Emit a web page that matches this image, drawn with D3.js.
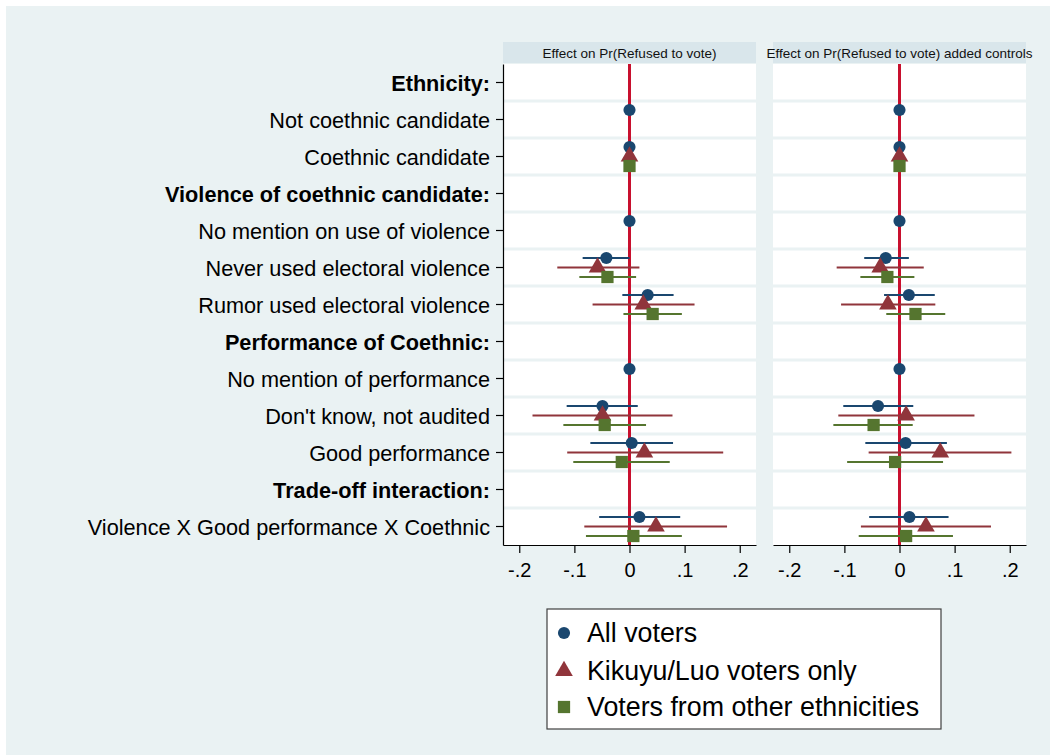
<!DOCTYPE html>
<html>
<head>
<meta charset="utf-8">
<script src="https://cdn.jsdelivr.net/npm/d3@7"></script>
<style>
  body { margin: 0; background: #fff; }
  svg { display: block; font-family: "Liberation Sans", Arial, sans-serif; }
</style>
</head>
<body>
<svg id="chart" width="1050" height="755"></svg>
<script>
// rows of the coefficient plot, top to bottom
var rows = [
    "Ethnicity:",
    "Not coethnic candidate",
    "Coethnic candidate",
    "Violence of coethnic candidate:",
    "No mention on use of violence",
    "Never used electoral violence",
    "Rumor used electoral violence",
    "Performance of Coethnic:",
    "No mention of performance",
    "Don't know, not audited",
    "Good performance",
    "Trade-off interaction:",
    "Violence X Good performance X Coethnic"
];
var headingRows = [0, 3, 7, 11];

var panelTitles = ["Effect on Pr(Refused to vote)", "Effect on Pr(Refused to vote) added controls"];
var seriesNames = ["All voters", "Kikuyu/Luo voters only", "Voters from other ethnicities"];
var seriesColors = ["#1a476f", "#90353b", "#55752f"];
var xTicks = [-0.2, -0.1, 0, 0.1, 0.2];
var xTickLabels = ["-.2", "-.1", "0", ".1", ".2"];

// [estimate, lower, upper] per row, null where no estimate (base rows have no CI)
var allVoters1 = [null, [0, null, null], [0, null, null], null, [0, null, null],
    [-0.042, -0.085, 0.000], [0.033, -0.013, 0.080], null, [0, null, null],
    [-0.049, -0.114, 0.015], [0.004, -0.071, 0.079], null, [0.018, -0.055, 0.092]];
var kikuyuLuo1 = [null, null, [0, null, null], null, null,
    [-0.058, -0.131, 0.018], [0.025, -0.067, 0.118], null, null,
    [-0.049, -0.176, 0.078], [0.027, -0.113, 0.170], null, [0.048, -0.082, 0.177]];
var otherEth1 = [null, null, [0, null, null], null, null,
    [-0.040, -0.091, 0.012], [0.042, -0.011, 0.095], null, null,
    [-0.045, -0.120, 0.030], [-0.014, -0.102, 0.073], null, [0.007, -0.079, 0.095]];

var allVoters2 = [null, [0, null, null], [0, null, null], null, [0, null, null],
    [-0.025, -0.064, 0.017], [0.017, -0.028, 0.064], null, [0, null, null],
    [-0.039, -0.102, 0.025], [0.011, -0.062, 0.086], null, [0.018, -0.055, 0.089]];
var kikuyuLuo2 = [null, null, [0, null, null], null, null,
    [-0.035, -0.114, 0.044], [-0.021, -0.106, 0.065], null, null,
    [0.012, -0.111, 0.136], [0.074, -0.056, 0.203], null, [0.048, -0.070, 0.166]];
var otherEth2 = [null, null, [0, null, null], null, null,
    [-0.022, -0.071, 0.027], [0.029, -0.024, 0.083], null, null,
    [-0.047, -0.120, 0.024], [-0.008, -0.095, 0.079], null, [0.012, -0.074, 0.097]];

var panelSeries = [
    [allVoters1, kikuyuLuo1, otherEth1],
    [allVoters2, kikuyuLuo2, otherEth2]
];

var svg = d3.select("#chart");
var bg = "#eaf2f3";

svg.append("rect").attr("x", 6).attr("y", 6).attr("width", 1044).attr("height", 749).attr("fill", bg);

var plotTop = 64, plotBottom = 545;
var panelLeft = [503, 773], panelWidth = 253;
var offsets = [-9.5, 0, 9.5];
var shapes = [d3.symbolCircle, d3.symbolTriangle, d3.symbolSquare];
var sizes = [115, 135, 150];

var y = d3.scaleBand().domain(d3.range(rows.length)).range([plotTop, plotBottom]).paddingInner(0).paddingOuter(0);

panelSeries.forEach(function (seriesList, p) {
    var x = d3.scaleLinear().domain([-0.2295, 0.2295]).range([panelLeft[p], panelLeft[p] + panelWidth]);
    var g = svg.append("g");

    // header strip
    g.append("rect")
        .attr("x", panelLeft[p]).attr("y", 42)
        .attr("width", panelWidth).attr("height", 21)
        .attr("fill", "#d9e6eb");
    g.append("text")
        .attr("x", panelLeft[p] + panelWidth / 2).attr("y", 53)
        .attr("text-anchor", "middle").attr("dominant-baseline", "central")
        .style("font-size", "13.5px").style("fill", "#111")
        .text(panelTitles[p]);

    // plot region
    g.append("rect")
        .attr("x", panelLeft[p]).attr("y", plotTop)
        .attr("width", panelWidth).attr("height", plotBottom - plotTop)
        .attr("fill", "#fff");

    // grid lines between rows
    g.append("g").selectAll("line")
        .data(d3.range(1, rows.length))
        .enter().append("line")
        .attr("x1", panelLeft[p]).attr("x2", panelLeft[p] + panelWidth)
        .attr("y1", function (d) { return y(d); })
        .attr("y2", function (d) { return y(d); })
        .style("stroke", bg).style("stroke-width", 3);

    // reference line at zero
    g.append("line")
        .attr("x1", x(0)).attr("x2", x(0))
        .attr("y1", plotTop).attr("y2", plotBottom)
        .style("stroke", "#c8102e").style("stroke-width", 3);

    seriesList.forEach(function (vals, s) {
        var pts = vals.map(function (v, i) {
            return v ? { row: i, est: v[0], lo: v[1], hi: v[2] } : null;
        }).filter(function (d) { return d; });
        var cy = function (d) { return y(d.row) + y.bandwidth() / 2 + offsets[s]; };

        g.append("g").selectAll("line")
            .data(pts.filter(function (d) { return d.lo != null; }))
            .enter().append("line")
            .attr("x1", function (d) { return x(d.lo); })
            .attr("x2", function (d) { return x(d.hi); })
            .attr("y1", cy).attr("y2", cy)
            .style("stroke", seriesColors[s]).style("stroke-width", 2);

        g.append("g").selectAll("path")
            .data(pts)
            .enter().append("path")
            .attr("d", d3.symbol().type(shapes[s]).size(sizes[s]))
            .attr("transform", function (d) {
                return "translate(" + x(d.est) + "," + cy(d) + ")";
            })
            .style("fill", seriesColors[s]);
    });

    // x axis
    var xAxis = svg.append("g")
        .attr("transform", "translate(0," + plotBottom + ")")
        .call(d3.axisBottom(x).tickValues(xTicks)
            .tickFormat(function (d, i) { return xTickLabels[i]; })
            .tickSize(8).tickSizeOuter(0).tickPadding(10));
    xAxis.selectAll("text").style("font-size", "20px").style("fill", "#000")
        .attr("font-family", "Liberation Sans, Arial, sans-serif");
    xAxis.selectAll("line, path").style("stroke", "#000").style("stroke-width", 1.2);
});

// y axis on the left panel only
var yAxis = svg.append("g")
    .attr("transform", "translate(" + panelLeft[0] + ",0)")
    .call(d3.axisLeft(y).tickFormat(function (d) { return rows[d]; })
        .tickSize(7).tickSizeOuter(0).tickPadding(6));
yAxis.selectAll("text")
    .attr("dy", "0.38em")
    .style("font-size", "21.7px").style("fill", "#000")
    .attr("font-family", "Liberation Sans, Arial, sans-serif")
    .style("font-weight", function (d) { return headingRows.indexOf(d) >= 0 ? "bold" : "normal"; });
yAxis.selectAll("line, path").style("stroke", "#000").style("stroke-width", 1.2);

// legend
var legend = svg.append("g");
legend.append("rect")
    .attr("x", 547).attr("y", 609).attr("width", 394).attr("height", 120)
    .attr("fill", "#fff").style("stroke", "#404040").style("stroke-width", 1.2);
var legendY = [633, 671, 707];
seriesNames.forEach(function (name, s) {
    legend.append("path")
        .attr("d", d3.symbol().type(shapes[s]).size(sizes[s]))
        .attr("transform", "translate(564," + legendY[s] + ")")
        .style("fill", seriesColors[s]);
    legend.append("text")
        .attr("x", 587).attr("y", legendY[s])
        .attr("dominant-baseline", "central")
        .style("font-size", "26.8px").style("fill", "#000")
        .text(name);
});
</script>
</body>
</html>
